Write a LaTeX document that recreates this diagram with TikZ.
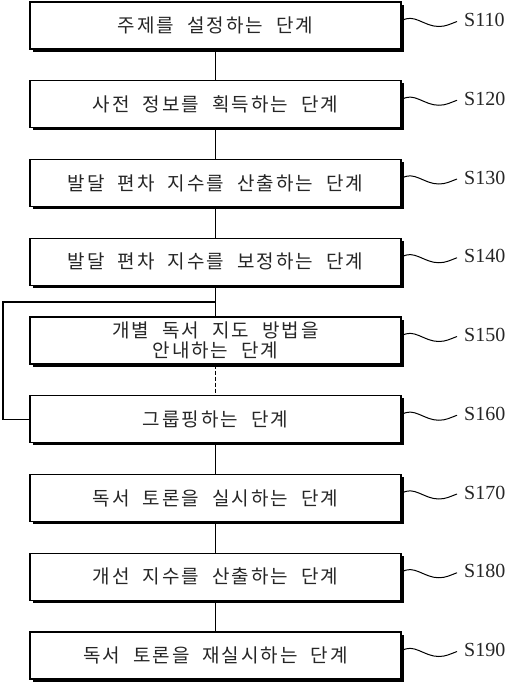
\documentclass[tikz,border=0pt]{standalone}
\usepackage{fontspec}
\setmainfont{Liberation Serif}
\newfontfamily\krfont{Noto Sans CJK KR}
\newXeTeXintercharclass\hangulclass
\count255="AC00
\loop\XeTeXcharclass\count255=\hangulclass\relax\advance\count255 by 1\relax\ifnum\count255<"D7A4\repeat
\XeTeXinterchartoks\hangulclass\hangulclass={\hskip 2pt\relax}
\XeTeXinterchartokenstate=1
\newcommand{\krset}{\krfont\fontsize{19}{20}\selectfont\spaceskip 13pt plus 1pt minus 1pt\relax}
\usetikzlibrary{shadows}
\begin{document}
\begin{tikzpicture}[x=1pt,y=1pt,
  stepbox/.style={draw, line width=1.2pt, fill=white, minimum width=371pt, minimum height=47pt,
    inner sep=0pt, align=center, text=black!85, font=\krset,
    drop shadow={shadow xshift=2.5pt, shadow yshift=-2.5pt, fill=black, opacity=1}},
  steplabel/.style={anchor=west, inner sep=3pt, text=black!85, font=\fontsize{20}{22}\selectfont},
  link/.style={line width=1.1pt},
  wave/.style={line width=1pt}]
\useasboundingbox (0,0) rectangle (522,-683);
\def\pitch{78.75}
\foreach \i/\t in {1/주제를 설정하는 단계,2/사전 정보를 획득하는 단계,3/발달 편차 지수를 산출하는 단계,4/발달 편차 지수를 보정하는 단계,5/{개별 독서 지도 방법을\\안내하는 단계},6/그룹핑하는 단계,7/독서 토론을 실시하는 단계,8/개선 지수를 산출하는 단계,9/독서 토론을 재실시하는 단계}{
  \pgfmathsetmacro\yc{-(25.5+(\i-1)*\pitch)}
  \node[stepbox] (b\i) at (215.5,\yc) {\t};
  \node[steplabel] (l\i) at (461,\yc+5.5) {S1\i0};
  \coordinate (w\i) at ([xshift=-4pt,yshift=-1.5pt]l\i.west);
  \draw[wave] ([yshift=4.5pt]b\i.east) to[out=35,in=180] ++(37,-5.5) to[out=0,in=200] (w\i);
}
\draw[link] (b1) -- (b2);
\draw[link] (b2) -- (b3);
\draw[link] (b3) -- (b4);
\draw[link] (b4) -- (b5);
\draw[link, dash pattern=on 4pt off 2pt] (b5) -- (b6);
\draw[link] (b6) -- (b7);
\draw[link] (b7) -- (b8);
\draw[link] (b8) -- (b9);
\coordinate (j) at (215.5,-302);
\draw[link] (j) -- (3,-302) |- (b6.west);
\end{tikzpicture}
\end{document}
